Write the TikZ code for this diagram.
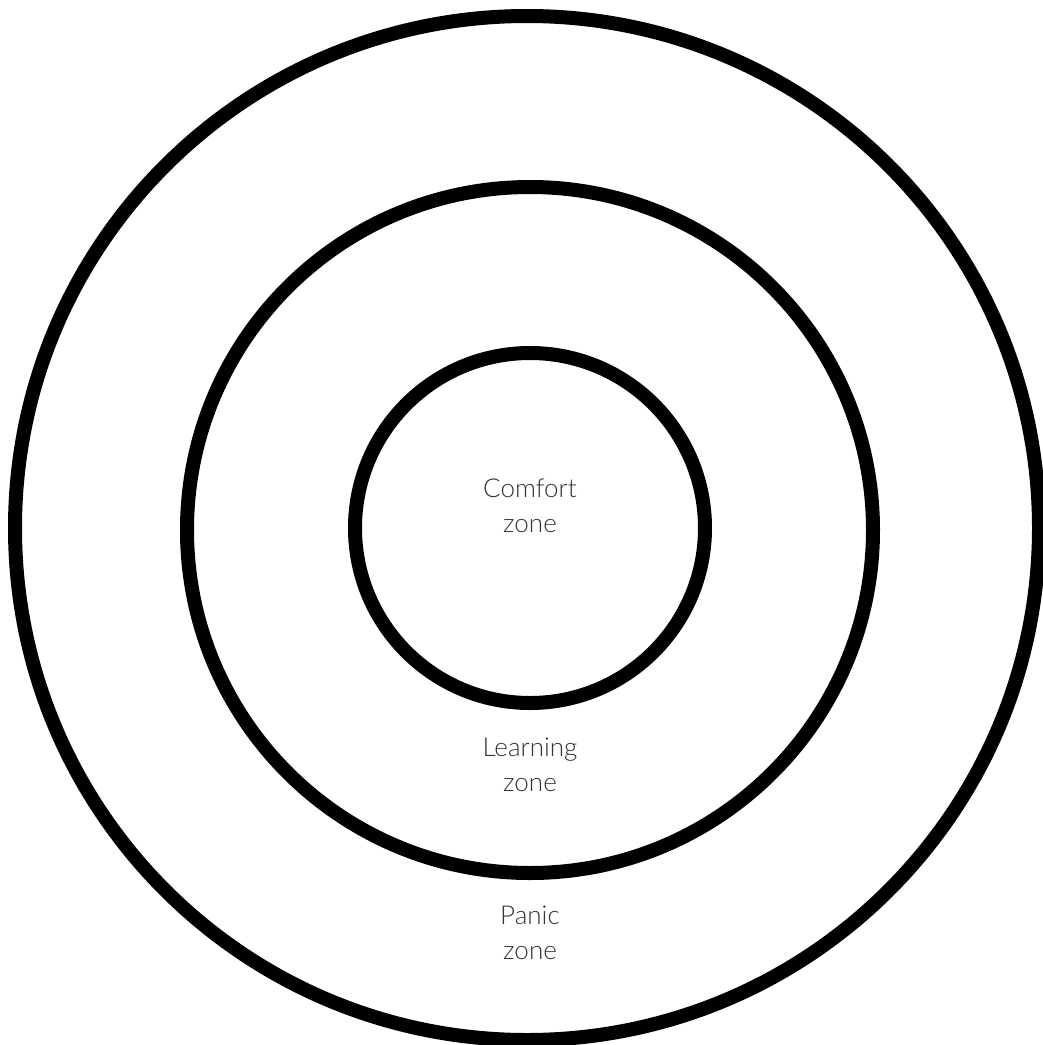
\documentclass[tikz,border=0pt]{standalone}
\usepackage{fontspec}
\setmainfont{Lato}[UprightFont={* Light}]
\usetikzlibrary{positioning}

\begin{document}
\begin{tikzpicture}[x=1pt, y=-1pt,
    zone/.style={draw=black, line width=14pt, circle, inner sep=0pt},
    zonelabel/.style={align=center, text=black!80, font=\fontsize{26}{35}\selectfont}]
    % Page
    \useasboundingbox[fill=white] (0,0) rectangle (1043,1045);

    % Zones
    \node[zone, minimum size=1024pt] (panic) at (527,528) {};
    \node[zone, minimum size=686pt] (learning) at (530,530) {};
    \node[zone, minimum size=350pt] (comfort) at (530,528) {};

    % Labels
    \node[zonelabel] (comforttext) at (530,506) {Comfort\\zone};
    \node[zonelabel] (learningtext) at (530,765) {Learning\\zone};
    \node[zonelabel] (panictext) at (530,933) {Panic\\zone};
\end{tikzpicture}
\end{document}
